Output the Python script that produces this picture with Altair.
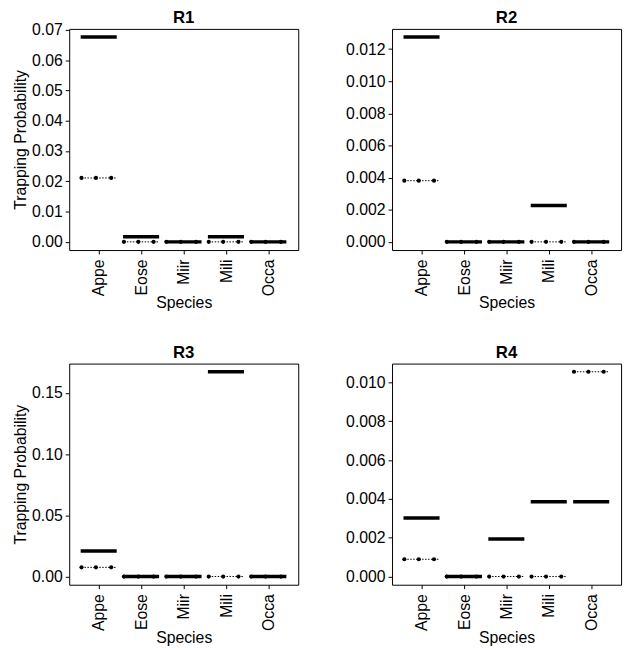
import altair as alt
import pandas as pd

species = ["Appe", "Eose", "Miir", "Mili", "Occa"]
positions = [1, 2, 3, 4, 5]

obs_r1 = [0.0676, 0.0017, 0.0, 0.0017, 0.0]
pred_r1 = [0.0211, 0.0, 0.0, 0.0, 0.0]
obs_r2 = [0.01275, 0.0, 0.0, 0.00227, 0.0]
pred_r2 = [0.00381, 0.0, 0.0, 0.0, 0.0]
obs_r3 = [0.0209, 0.0, 0.0, 0.1672, 0.0]
pred_r3 = [0.0075, 0.0, 0.0, 0.0, 0.0]
obs_r4 = [0.00302, 0.0, 0.00193, 0.00385, 0.00385]
pred_r4 = [0.00089, 0.0, 0.0, 0.0, 0.01055]

ticks_r1 = [0.0, 0.01, 0.02, 0.03, 0.04, 0.05, 0.06, 0.07]
ticks_r2 = [0.0, 0.002, 0.004, 0.006, 0.008, 0.010, 0.012]
ticks_r3 = [0.0, 0.05, 0.10, 0.15]
ticks_r4 = [0.0, 0.002, 0.004, 0.006, 0.008, 0.010]

FONT = "Liberation Sans"
label_expr = "[" + ",".join("'%s'" % s for s in species) + "][datum.value - 1]"


def panel(name, obs, pred, ticks, fmt, left, title_offset):
    df = pd.DataFrame({"pos": positions, "species": species, "obs": obs, "pred": pred})
    m = max(max(obs), max(pred))
    xscale = alt.Scale(domain=[0.3, 5.7], nice=False, zero=False)
    yscale = alt.Scale(domain=[-0.04 * m, 1.04 * m], nice=False, zero=False)
    xaxis = alt.Axis(values=positions, labelExpr=label_expr, labelAngle=-90,
                     title="Species", grid=False, domain=False, labelOverlap=False,
                     tickSize=4, labelPadding=5, titlePadding=-1)
    if left:
        yaxis = alt.Axis(values=ticks, format=fmt, title="Trapping Probability",
                         grid=False, domain=False, tickSize=4, labelPadding=3,
                         titlePadding=3, labelOverlap=False, tickCount=len(ticks))
    else:
        yaxis = alt.Axis(values=ticks, format=fmt, title=None, labelOverlap=False,
                         grid=False, domain=False, tickSize=4, labelPadding=3,
                         tickCount=len(ticks))

    base = alt.Chart(df)
    obs_rule = base.transform_calculate(
        xa="datum.pos - 0.43", xb="datum.pos + 0.42"
    ).mark_rule(color="black", strokeWidth=3.5).encode(
        x=alt.X("xa:Q", scale=xscale, axis=xaxis),
        x2="xb:Q",
        y=alt.Y("obs:Q", scale=yscale, axis=yaxis),
    )
    pred_rule = base.transform_calculate(
        xa="datum.pos - 0.41", xb="datum.pos + 0.40"
    ).mark_rule(color="black", strokeWidth=1, strokeDash=[1.5, 1.5]).encode(
        x=alt.X("xa:Q", scale=xscale, axis=xaxis),
        x2="xb:Q",
        y=alt.Y("pred:Q", scale=yscale, axis=yaxis),
    )
    pred_pts = base.transform_calculate(
        xl="datum.pos - 0.41", xm="datum.pos - 0.07", xr="datum.pos + 0.29"
    ).transform_fold(["xl", "xm", "xr"], as_=["k", "xd"]).mark_point(
        filled=True, color="black", size=18, opacity=1
    ).encode(
        x=alt.X("xd:Q", scale=xscale, axis=xaxis),
        y=alt.Y("pred:Q", scale=yscale, axis=yaxis),
    )
    return alt.layer(obs_rule, pred_rule, pred_pts).properties(
        width=232, height=224,
        title=alt.TitleParams(name, fontSize=17, fontWeight="bold", font=FONT,
                              frame="group", anchor="middle", offset=title_offset,
                              color="black"),
    )


r1 = panel("R1", obs_r1, pred_r1, ticks_r1, ".2f", True, -5)
r2 = panel("R2", obs_r2, pred_r2, ticks_r2, ".3f", False, 2)
r3 = panel("R3", obs_r3, pred_r3, ticks_r3, ".2f", True, 2)
r4 = panel("R4", obs_r4, pred_r4, ticks_r4, ".3f", False, 2)

chart = alt.concat(r1, r2, r3, r4, columns=2,
                   spacing=alt.RowColnumber(row=32, column=46)).properties(
    padding={"left": 4, "top": -4, "right": 5, "bottom": 5}
).configure_view(
    stroke="black", strokeWidth=1
).configure_axis(
    labelFont=FONT, titleFont=FONT, labelFontSize=16, titleFontSize=16,
    labelColor="black", titleColor="black", tickColor="black", tickWidth=1,
    titleFontWeight="normal"
)

chart.save("out.html", embed_options={"renderer": "svg", "actions": False})
